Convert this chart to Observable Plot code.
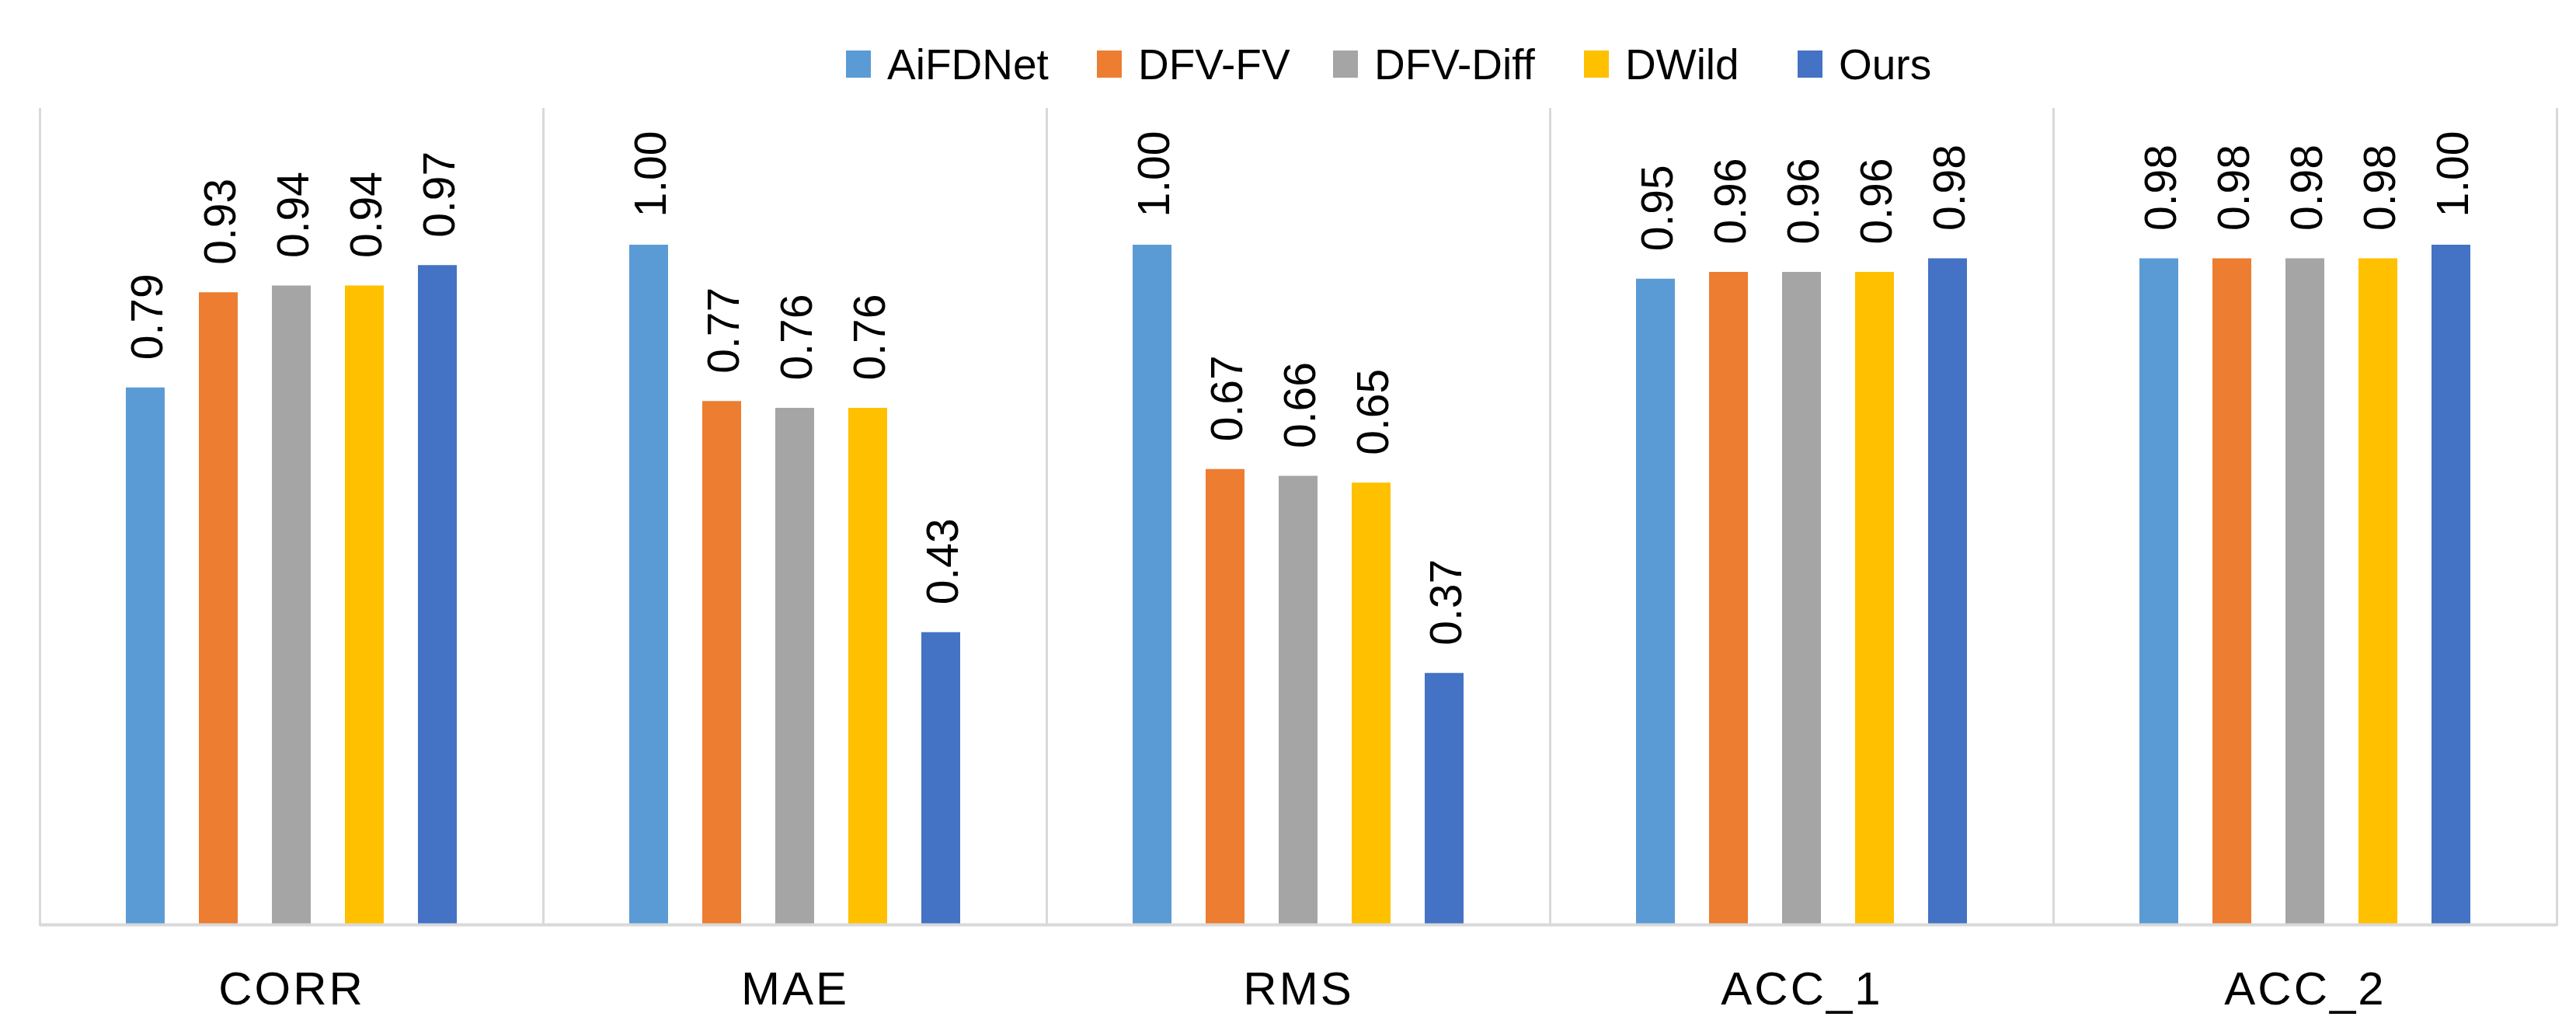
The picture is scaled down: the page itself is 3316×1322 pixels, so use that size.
<!DOCTYPE html>
<html>
<head>
<meta charset="utf-8">
<script src="https://cdn.jsdelivr.net/npm/d3@7"></script>
<script src="https://cdn.jsdelivr.net/npm/@observablehq/plot@0.6"></script>
<style>
  html, body { margin: 0; padding: 0; background: #fff; }
  #wrap { position: relative; width: 3316px; height: 1322px; }
  #chart svg { display: block; }
  .lg-item { position: absolute; top: 51px; height: 63px; display: flex; align-items: center;
             font-family: "Liberation Sans", Arial, sans-serif; font-size: 55px; color: #000; white-space: nowrap; }
  .lg-sw { width: 32px; height: 35px; margin-right: 21px; }
  g[aria-label="fx-axis tick label"] text { letter-spacing: 3px; }
</style>
</head>
<body>
<div id="wrap">
  <div id="legend"></div>
  <div id="chart"></div>
</div>
<script>
const metrics = ["CORR", "MAE", "RMS", "ACC_1", "ACC_2"];
const methods = ["AiFDNet", "DFV-FV", "DFV-Diff", "DWild", "Ours"];
const corrValues = [0.79, 0.93, 0.94, 0.94, 0.97];
const maeValues  = [1.00, 0.77, 0.76, 0.76, 0.43];
const rmsValues  = [1.00, 0.67, 0.66, 0.65, 0.37];
const acc1Values = [0.95, 0.96, 0.96, 0.96, 0.98];
const acc2Values = [0.98, 0.98, 0.98, 0.98, 1.00];
const colors = ["#5B9BD5", "#ED7D31", "#A5A5A5", "#FFC000", "#4472C4"];
const legendLeft = [1089, 1412, 1716, 2039, 2314];

const series = [corrValues, maeValues, rmsValues, acc1Values, acc2Values];
const rows = [];
metrics.forEach((m, i) => {
  methods.forEach((s, j) => rows.push({metric: m, method: s, value: series[i][j]}));
});

// legend
const legend = document.getElementById("legend");
methods.forEach((s, j) => {
  const item = document.createElement("div");
  item.className = "lg-item";
  item.style.left = legendLeft[j] + "px";
  const sw = document.createElement("div");
  sw.className = "lg-sw";
  sw.style.background = colors[j];
  const tx = document.createElement("span");
  tx.textContent = s;
  item.appendChild(sw);
  item.appendChild(tx);
  legend.appendChild(item);
});

const chart = Plot.plot({
  width: 3316,
  height: 1322,
  marginLeft: 51,
  marginRight: 25,
  marginTop: 140,
  marginBottom: 132,
  style: {fontFamily: "Liberation Sans, Arial, sans-serif", background: "white", color: "black"},
  fx: {domain: metrics, padding: 0, label: null},
  x: {domain: methods, paddingInner: 0.463, paddingOuter: 1.178, axis: null},
  y: {domain: [0, 1.2], axis: null},
  color: {domain: methods, range: colors},
  marks: [
    Plot.frame({anchor: "left", stroke: "#d9d9d9", strokeWidth: 3}),
    Plot.frame({anchor: "right", stroke: "#d9d9d9", strokeWidth: 3}),
    Plot.barY(rows, {fx: "metric", x: "method", y: "value", fill: "method"}),
    Plot.ruleY([0], {stroke: "#d9d9d9", strokeWidth: 4}),
    Plot.text(rows, {
      fx: "metric", x: "method", y: "value",
      text: d => d.value.toFixed(2),
      rotate: -90, textAnchor: "start", dy: -36, dx: 3,
      fontSize: 57, fill: "black"
    }),
    Plot.axisFx({anchor: "bottom", tickSize: 0, tickPadding: 60, fontSize: 60, label: null})
  ]
});
document.getElementById("chart").appendChild(chart);
</script>
</body>
</html>
